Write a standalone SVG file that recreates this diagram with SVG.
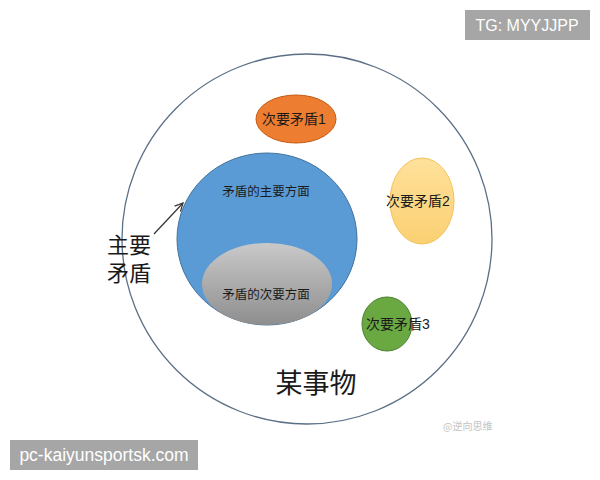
<svg xmlns="http://www.w3.org/2000/svg" width="600" height="480" viewBox="0 0 600 480">
<defs>
<style>
.t{font-family:"Liberation Sans","Noto Sans CJK SC",sans-serif;fill:#1a1a1a;text-anchor:middle}
.s{font-size:12.5px}
.m{font-size:14px}
.big{font-size:22px}
.tag{font-family:"Liberation Sans","Noto Sans",sans-serif;fill:#ffffff;font-size:16px}
</style>
<linearGradient id="gray" x1="0" y1="0" x2="0" y2="1">
<stop offset="0" stop-color="#c9c9c9"/>
<stop offset="1" stop-color="#8e8e8e"/>
</linearGradient>
<linearGradient id="yel" x1="0" y1="0" x2="0" y2="1">
<stop offset="0" stop-color="#ffe19a"/>
<stop offset="1" stop-color="#fbd073"/>
</linearGradient>
<marker id="ah" markerWidth="10" markerHeight="10" refX="9" refY="5" orient="auto" markerUnits="userSpaceOnUse">
<path d="M1,1 L9,5 L1,9" fill="none" stroke="#333" stroke-width="1.2"/>
</marker>
</defs>
<rect width="600" height="480" fill="#ffffff"/>
<g id="thing">
<circle cx="307" cy="239" r="185" fill="#ffffff" stroke="#5a6f86" stroke-width="1.3"/>
<text class="t" x="316" y="393" style="font-size:27px">某事物</text>
</g>
<g id="main">
<ellipse cx="267" cy="239" rx="90" ry="86" fill="#5b9bd5" stroke="#41719c" stroke-width="1"/>
<text class="t s" x="266" y="196">矛盾的主要方面</text>
</g>
<g id="minor-aspect">
<ellipse cx="267" cy="284" rx="65" ry="41" fill="url(#gray)"/>
<text class="t s" x="266" y="299">矛盾的次要方面</text>
</g>
<g id="sec1">
<ellipse cx="296" cy="119" rx="40" ry="24" fill="#ed7d31" stroke="#c55a11" stroke-width="1"/>
<text class="t m" x="294" y="124">次要矛盾1</text>
</g>
<g id="sec2">
<ellipse cx="422" cy="201" rx="32" ry="43" fill="url(#yel)" stroke="#f2c25a" stroke-width="1"/>
<text class="t m" x="418" y="206">次要矛盾2</text>
</g>
<g id="sec3">
<ellipse cx="387" cy="324" rx="25" ry="27" fill="#6aa842" stroke="#4f7f30" stroke-width="1"/>
<text class="t m" x="398" y="329">次要矛盾3</text>
</g>
<g id="label-main">
<text class="t big" x="129" y="253">主要</text>
<text class="t big" x="129" y="281">矛盾</text>
</g>
<g id="connectors">
<line x1="154" y1="234" x2="183" y2="203" stroke="#333" stroke-width="1.2" marker-end="url(#ah)"/>
</g>
<g id="watermark">
<text x="443" y="430" style="font-family:'Noto Sans CJK SC',sans-serif;font-size:10px;fill:#c4c4c4">@逆向思维</text>
</g>
<g id="tags">
<rect x="465" y="10" width="125" height="30" fill="#a6a6a6"/>
<text class="tag" x="527" y="31" text-anchor="middle">TG: MYYJJPP</text>
<rect x="10" y="440" width="188" height="30" fill="#a6a6a6"/>
<text class="tag" x="104" y="461" text-anchor="middle" style="font-size:17.5px">pc-kaiyunsportsk.com</text>
</g>
</svg>
